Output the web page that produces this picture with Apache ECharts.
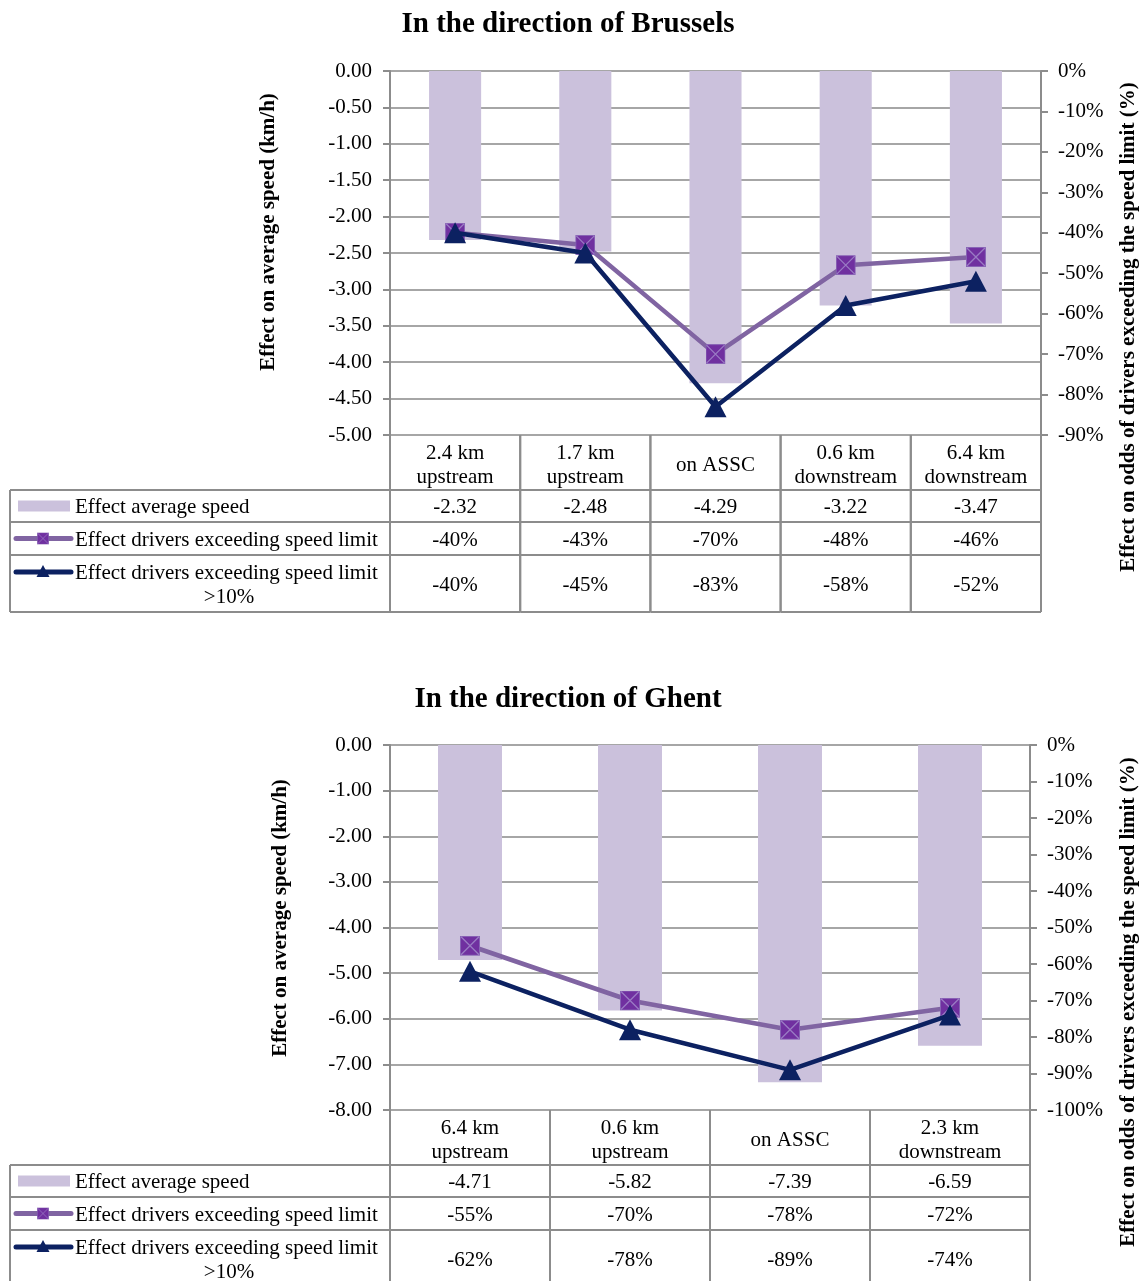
<!DOCTYPE html>
<html>
<head>
<meta charset="utf-8">
<script src="https://cdn.jsdelivr.net/npm/echarts@6/dist/echarts.min.js"></script>
<style>
  html, body { margin: 0; padding: 0; background: #fff; }
  #chart { width: 1140px; height: 1281px; }
</style>
</head>
<body>
<div id="chart"></div>
<script>
// ---------------- DATA ----------------
const titles = ['In the direction of Brussels', 'In the direction of Ghent'];
const leftAxisName = 'Effect on average speed (km/h)';
const rightAxisName = 'Effect on odds of drivers exceeding the speed limit (%)';
const seriesNames = ['Effect average speed', 'Effect drivers exceeding speed limit', 'Effect drivers exceeding speed limit', '>10%'];

const catsBrussels = ['2.4 km\nupstream', '1.7 km\nupstream', 'on ASSC', '0.6 km\ndownstream', '6.4 km\ndownstream'];
const speedBrussels = [-2.32, -2.48, -4.29, -3.22, -3.47];
const exceedBrussels = [-40, -43, -70, -48, -46];
const exceed10Brussels = [-40, -45, -83, -58, -52];

const catsGhent = ['6.4 km\nupstream', '0.6 km\nupstream', 'on ASSC', '2.3 km\ndownstream'];
const speedGhent = [-4.71, -5.82, -7.39, -6.59];
const exceedGhent = [-55, -70, -78, -72];
const exceed10Ghent = [-62, -78, -89, -74];

// axis ranges (min, max, interval)
const leftAxisBrussels = [-5, 0, 0.5];
const rightAxisBrussels = [-90, 0, 10];
const leftAxisGhent = [-8, 0, 1];
const rightAxisGhent = [-100, 0, 10];

// ---------------- STYLE ----------------
const FONT = '"Liberation Serif", "Times New Roman", serif';
const BAR_COLOR = '#cbc1dc';
const PURPLE = '#8064a2';
const NAVY = '#0c2161';
const GRID_COLOR = '#a6a6a6';
const AXIS_COLOR = '#8c8c8c';
const TABLE_COLOR = '#8c8c8c';
const TDY = 1.5; // text baseline nudge

const squareSvg = '<svg xmlns="http://www.w3.org/2000/svg" width="40" height="40">' +
  '<rect x="1" y="1" width="38" height="38" fill="#7030a0" stroke="#8763b5" stroke-width="2"/>' +
  '<path d="M2 2L38 38M38 2L2 38" stroke="#9a7cc4" stroke-width="2.5"/></svg>';
const squareImg = 'data:image/svg+xml;utf8,' + encodeURIComponent(squareSvg);

const ROWS = [55, 32, 33, 57]; // category row, speed row, exceed row, exceed10 row

function tableRender(cats, speeds, ex, ex10) {
  return function (params, api) {
    const i = params.dataIndex;
    const cs = params.coordSys;
    const cx = api.coord([i, api.value(1)])[0];
    const w = api.size([1, 0])[0];
    const x0 = cx - w / 2, x1 = cx + w / 2;
    const r0 = cs.y + cs.height;
    const r1 = r0 + ROWS[0], r2 = r1 + ROWS[1], r3 = r2 + ROWS[2], r4 = r3 + ROWS[3];
    const ls = { stroke: TABLE_COLOR, lineWidth: 2 };
    const txt = (t, x, y, align) => ({
      type: 'text',
      style: { text: t, x: x, y: y + TDY, align: align || 'center', verticalAlign: 'middle',
        font: '21px ' + FONT, fill: '#000', lineHeight: 24 }
    });
    const line = (xa, ya, xb, yb) => ({ type: 'line', shape: { x1: xa, y1: ya, x2: xb, y2: yb }, style: ls });
    const children = [
      line(x0, r0, x0, r4), line(x1, r0, x1, r4),
      line(x0, r1, x1, r1), line(x0, r2, x1, r2), line(x0, r3, x1, r3), line(x0, r4, x1, r4),
      txt(cats[i], cx, (r0 + r1) / 2 + 1),
      txt(speeds[i].toFixed(2), cx, (r1 + r2) / 2),
      txt(ex[i] + '%', cx, (r2 + r3) / 2),
      txt(ex10[i] + '%', cx, (r3 + r4) / 2)
    ];
    if (i === 0) {
      const L = 10;
      children.push(
        line(L, r1, x0, r1), line(L, r2, x0, r2), line(L, r3, x0, r3), line(L, r4, x0, r4),
        line(L, r1, L, r4)
      );
      const ym1 = (r1 + r2) / 2, ym2 = (r2 + r3) / 2, ym3 = r3 + 17;
      // legend symbols
      children.push({ type: 'rect', shape: { x: 18, y: ym1 - 5.5, width: 52, height: 11 }, style: { fill: BAR_COLOR } });
      children.push({ type: 'line', shape: { x1: 16, y1: ym2, x2: 71, y2: ym2 }, style: { stroke: PURPLE, lineWidth: 5, lineCap: 'round' } });
      children.push({ type: 'image', style: { image: squareImg, x: 37, y: ym2 - 6, width: 12, height: 12 } });
      children.push({ type: 'line', shape: { x1: 16, y1: ym3, x2: 71, y2: ym3 }, style: { stroke: NAVY, lineWidth: 5, lineCap: 'round' } });
      children.push({ type: 'polygon', shape: { points: [[43, ym3 - 7], [49.5, ym3 + 5], [36.5, ym3 + 5]] }, style: { fill: NAVY } });
      // legend texts
      children.push(txt(seriesNames[0], 75, ym1, 'left'));
      children.push(txt(seriesNames[1], 75, ym2, 'left'));
      children.push(txt(seriesNames[2], 75, ym3, 'left'));
      children.push(txt(seriesNames[3], (75 + x0 - 7) / 2, ym3 + 24, 'center'));
    }
    return { type: 'group', children: children };
  };
}

function axisPair(gridIndex, leftR, rightR) {
  const common = {
    type: 'value', gridIndex: gridIndex,
    axisLine: { show: true, lineStyle: { color: AXIS_COLOR, width: 2 } },
    axisTick: { show: true, length: 7, lineStyle: { color: AXIS_COLOR, width: 2 } },
  };
  return [
    Object.assign({}, common, {
      position: 'left', min: leftR[0], max: leftR[1], interval: leftR[2],
      axisLabel: { formatter: v => v.toFixed(2), margin: 18, fontSize: 21, fontFamily: FONT, color: '#000', padding: [3, 0, 0, 0] },
      splitLine: { show: true, lineStyle: { color: GRID_COLOR, width: 2 } }
    }),
    Object.assign({}, common, {
      position: 'right', min: rightR[0], max: rightR[1], interval: rightR[2],
      axisLabel: { formatter: v => Math.round(v) + '%', margin: 17, fontSize: 21, fontFamily: FONT, color: '#000', padding: [3, 0, 0, 0] },
      splitLine: { show: false }
    })
  ];
}

function xAxisFor(gridIndex, cats) {
  return {
    type: 'category', gridIndex: gridIndex, data: cats,
    axisLine: { show: false, onZero: false }, axisTick: { show: false }, axisLabel: { show: false },
    splitLine: { show: false }
  };
}

function seriesFor(gridIndex, cats, speed, ex, ex10, yMin) {
  const xi = gridIndex, yl = gridIndex * 2, yr = gridIndex * 2 + 1;
  return [
    { type: 'bar', name: seriesNames[0], xAxisIndex: xi, yAxisIndex: yl, data: speed,
      barWidth: '40%', itemStyle: { color: BAR_COLOR }, z: 2 },
    { type: 'line', name: seriesNames[1], xAxisIndex: xi, yAxisIndex: yr, data: ex,
      lineStyle: { color: PURPLE, width: 4.5 }, itemStyle: { color: '#7030a0' },
      symbol: 'image://' + squareImg, symbolSize: 20, z: 4 },
    { type: 'line', name: seriesNames[2] + ' ' + seriesNames[3], xAxisIndex: xi, yAxisIndex: yr, data: ex10,
      lineStyle: { color: NAVY, width: 4.5 }, itemStyle: { color: NAVY },
      symbol: 'triangle', symbolSize: [22, 21], z: 5 },
    { type: 'custom', xAxisIndex: xi, yAxisIndex: yl, clip: false, silent: true, z: 6,
      data: cats.map((c, i) => [i, yMin]),
      renderItem: tableRender(cats, speed, ex, ex10) }
  ];
}

const titleFont = 'bold 29px ' + FONT;
const nameFont = 'bold 21px ' + FONT;

const option = {
  animation: false,
  backgroundColor: '#fff',
  grid: [
    { left: 390, top: 71, right: 99, height: 364 },
    { left: 390, top: 745, right: 110, height: 365 }
  ],
  xAxis: [xAxisFor(0, catsBrussels), xAxisFor(1, catsGhent)],
  yAxis: axisPair(0, leftAxisBrussels, rightAxisBrussels).concat(axisPair(1, leftAxisGhent, rightAxisGhent)),
  series: seriesFor(0, catsBrussels, speedBrussels, exceedBrussels, exceed10Brussels, leftAxisBrussels[0])
    .concat(seriesFor(1, catsGhent, speedGhent, exceedGhent, exceed10Ghent, leftAxisGhent[0])),
  graphic: [
    { type: 'text', x: 568, y: 24.5, style: { text: titles[0], font: titleFont, fill: '#000', align: 'center', verticalAlign: 'middle' } },
    { type: 'text', x: 568, y: 699.5, style: { text: titles[1], font: titleFont, fill: '#000', align: 'center', verticalAlign: 'middle' } },
    { type: 'text', x: 269, y: 232, rotation: Math.PI / 2, style: { text: leftAxisName, font: nameFont, fill: '#000', align: 'center', verticalAlign: 'middle' } },
    { type: 'text', x: 281, y: 918, rotation: Math.PI / 2, style: { text: leftAxisName, font: nameFont, fill: '#000', align: 'center', verticalAlign: 'middle' } },
    { type: 'text', x: 1129, y: 327, rotation: Math.PI / 2, style: { text: rightAxisName, font: nameFont, fill: '#000', align: 'center', verticalAlign: 'middle' } },
    { type: 'text', x: 1129, y: 1002, rotation: Math.PI / 2, style: { text: rightAxisName, font: nameFont, fill: '#000', align: 'center', verticalAlign: 'middle' } }
  ]
};

const chart = echarts.init(document.getElementById('chart'), null, { renderer: 'canvas' });
chart.setOption(option);
</script>
</body>
</html>
